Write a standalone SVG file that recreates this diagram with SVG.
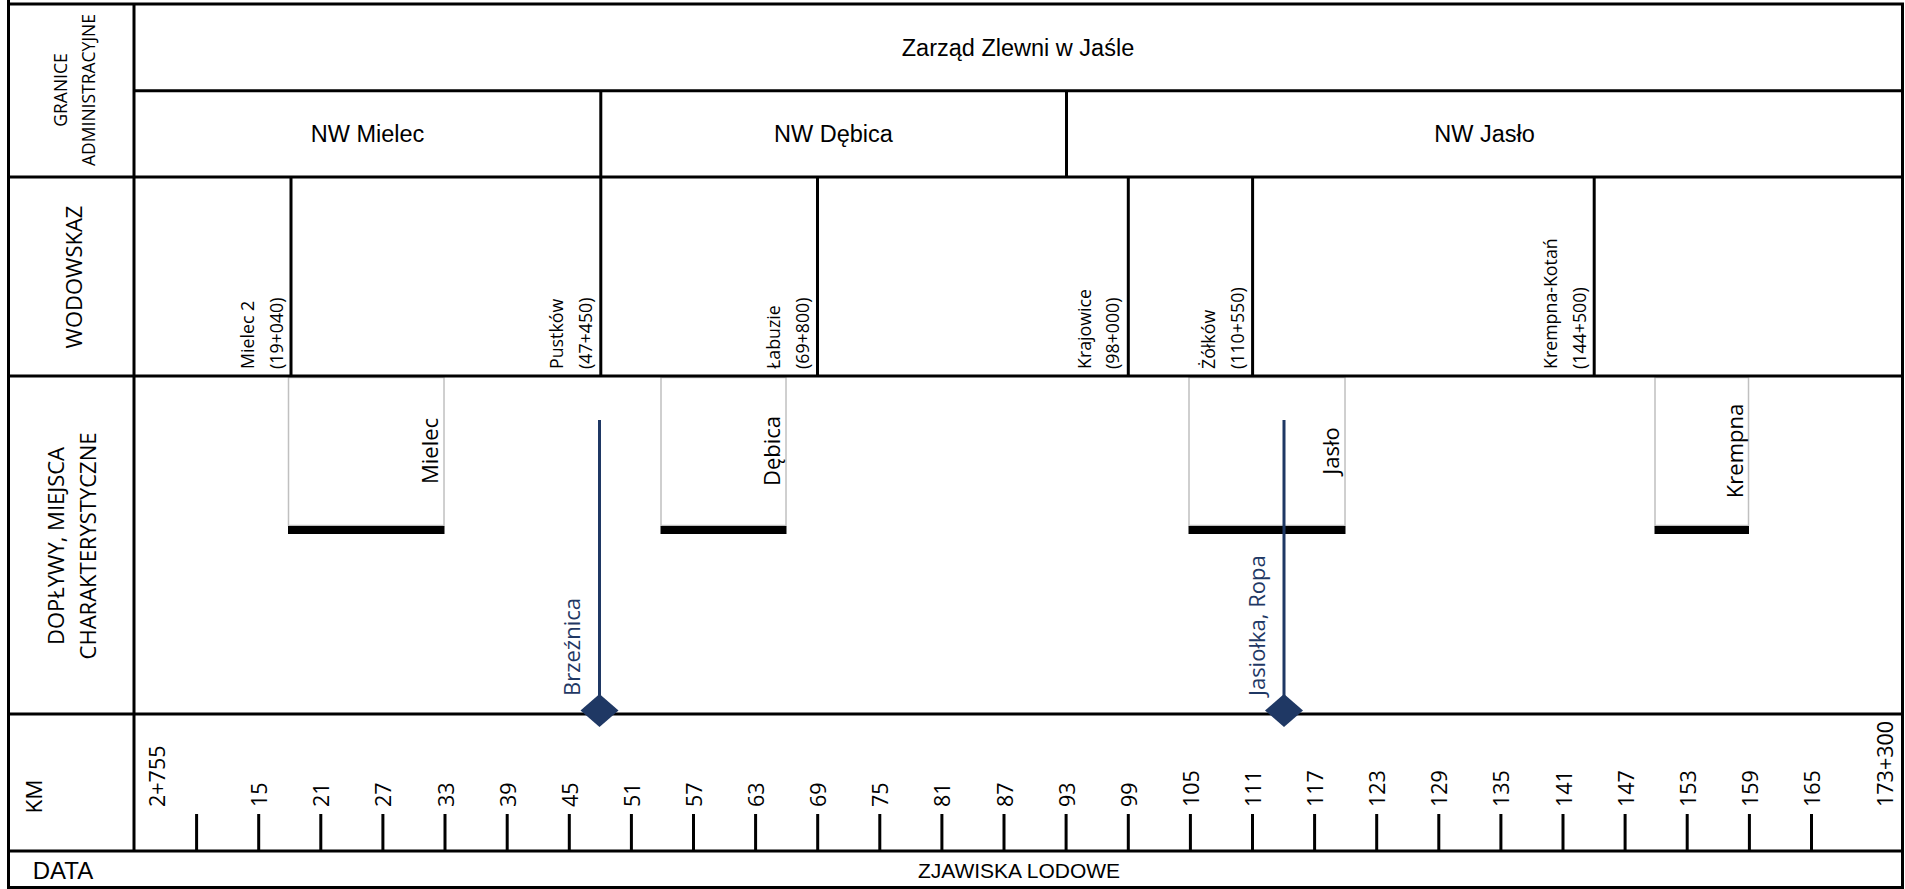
<svg xmlns="http://www.w3.org/2000/svg" width="1905" height="889" viewBox="0 0 1905 889">
  <style>
    .grid { fill: none; stroke: #000; stroke-width: 3; }
    .tick { fill: none; stroke: #000; stroke-width: 3; }
    .cal { font-family: "Liberation Sans", Arial, sans-serif; fill: #000; }
    .os { font-family: "Open Sans", "DejaVu Sans", sans-serif; fill: #000; }
    .hdr { font-size: 23.5px; text-anchor: middle; dominant-baseline: central; }
    .st { font-size: 17.8px; text-anchor: start; dominant-baseline: central; }
    .km { font-size: 21.5px; text-anchor: start; dominant-baseline: central; }
    .box { fill: #fff; stroke: #c0c0c0; stroke-width: 1.5; }
    .bar { fill: #000; }
    .blab { font-size: 22px; text-anchor: middle; dominant-baseline: central; }
    .trib { fill: none; stroke: #1f3864; stroke-width: 3; }
    .tlab { font-family: "Open Sans", "DejaVu Sans", sans-serif; font-size: 22px; fill: #1f3864; text-anchor: start; dominant-baseline: central; }
    .side { text-anchor: middle; dominant-baseline: central; }
  </style>
  <defs>
    <marker id="diamond" viewBox="-20 -18 40 36" markerWidth="40" markerHeight="36" refX="0" refY="0" markerUnits="userSpaceOnUse" orient="0">
      <polygon points="0,-16.5 19,0 0,16.5 -19,0" fill="#1f3864"/>
    </marker>
  </defs>
  <rect width="1905" height="889" fill="#fff"/>

  <!-- boxes (characteristic places) -->
  <g id="box-mielec">
    <rect class="box" x="288.5" y="377.5" width="155.5" height="148"/>
    <rect class="bar" x="288" y="526" width="156.5" height="8"/>
    <text class="os blab" transform="translate(429,451) rotate(-90)">Mielec</text>
  </g>
  <g id="box-debica">
    <rect class="box" x="661" y="377.5" width="125" height="148"/>
    <rect class="bar" x="660.5" y="526" width="126" height="8"/>
    <text class="os blab" transform="translate(771,451) rotate(-90)">Dębica</text>
  </g>
  <g id="box-jaslo">
    <rect class="box" x="1189" y="377.5" width="156" height="148"/>
    <rect class="bar" x="1188.5" y="526" width="157" height="8"/>
    <text class="os blab" transform="translate(1330,451) rotate(-90)">Jasło</text>
  </g>
  <g id="box-krempna">
    <rect class="box" x="1655" y="377.5" width="93.5" height="148"/>
    <rect class="bar" x="1654.5" y="526" width="94.5" height="8"/>
    <text class="os blab" transform="translate(1734,451) rotate(-90)">Krempna</text>
  </g>

  <!-- table grid -->
  <g id="grid">
    <rect class="grid" x="8.5" y="4" width="1894" height="883.5"/>
    <path class="grid" d="M8.5 0 V4
      M134 4 V851
      M134 90.7 H1902.5
      M8.5 177 H1902.5
      M8.5 376 H1902.5
      M8.5 714 H1902.5
      M8.5 851 H1902.5
      M600.8 90.7 V376
      M1066.5 90.7 V177
      M291 177 V376
      M817.5 177 V376
      M1128.3 177 V376
      M1252.6 177 V376
      M1594.2 177 V376"/>
  </g>

  <!-- row headers -->
  <g id="row-granice">
    <text class="os side" font-size="17.5" transform="translate(60,90) rotate(-90)">GRANICE</text>
    <text class="os side" font-size="17.5" transform="translate(87.5,90) rotate(-90)">ADMINISTRACYJNE</text>
  </g>
  <g id="row-wodowskaz">
    <text class="os side" font-size="22" transform="translate(73,277) rotate(-90)">WODOWSKAZ</text>
  </g>
  <g id="row-doplywy">
    <text class="os side" font-size="22" transform="translate(55,546) rotate(-90)">DOPŁYWY, MIEJSCA</text>
    <text class="os side" font-size="22" transform="translate(87,546) rotate(-90)">CHARAKTERYSTYCZNE</text>
  </g>
  <g id="row-km">
    <text class="os side" font-size="22.5" transform="translate(33,796.5) rotate(-90)">KM</text>
  </g>
  <g id="row-data">
    <text class="cal side" font-size="24" x="63" y="870">DATA</text>
    <text class="cal side" font-size="21" x="1019" y="870">ZJAWISKA LODOWE</text>
  </g>

  <!-- administrative units -->
  <g id="zarzad">
    <text class="cal hdr" font-size="24" x="1018" y="47.5">Zarząd Zlewni w Jaśle</text>
  </g>
  <g id="nw-mielec"><text class="cal hdr" x="367.5" y="134">NW Mielec</text></g>
  <g id="nw-debica"><text class="cal hdr" x="833.5" y="134">NW Dębica</text></g>
  <g id="nw-jaslo"><text class="cal hdr" x="1484.5" y="134">NW Jasło</text></g>

  <!-- gauges -->
  <g id="g-mielec2">
    <text class="os st" transform="translate(246.5,369) rotate(-90)">Mielec 2</text>
    <text class="os st" transform="translate(275.5,369) rotate(-90)">(19+040)</text>
  </g>
  <g id="g-pustkow">
    <text class="os st" transform="translate(556,369) rotate(-90)">Pustków</text>
    <text class="os st" transform="translate(585,369) rotate(-90)">(47+450)</text>
  </g>
  <g id="g-labuzie">
    <text class="os st" transform="translate(773,369) rotate(-90)">Łabuzie</text>
    <text class="os st" transform="translate(802,369) rotate(-90)">(69+800)</text>
  </g>
  <g id="g-krajowice">
    <text class="os st" transform="translate(1084,369) rotate(-90)">Krajowice</text>
    <text class="os st" transform="translate(1112,369) rotate(-90)">(98+000)</text>
  </g>
  <g id="g-zolkow">
    <text class="os st" transform="translate(1208,369) rotate(-90)">Żółków</text>
    <text class="os st" transform="translate(1237,369) rotate(-90)">(110+550)</text>
  </g>
  <g id="g-krempna-kotan">
    <text class="os st" transform="translate(1550,369) rotate(-90)">Krempna-Kotań</text>
    <text class="os st" transform="translate(1579,369) rotate(-90)">(144+500)</text>
  </g>

  <!-- km scale -->
  <g id="km-scale">
    <path class="tick" d="M196.6 814V851 M258.7 814V851 M320.8 814V851 M382.9 814V851 M445 814V851 M507.2 814V851 M569.3 814V851 M631.4 814V851 M693.5 814V851 M755.6 814V851 M817.7 814V851 M879.8 814V851 M941.9 814V851 M1004 814V851 M1066.1 814V851 M1128.3 814V851 M1190.4 814V851 M1252.5 814V851 M1314.6 814V851 M1376.7 814V851 M1438.8 814V851 M1500.9 814V851 M1563 814V851 M1625.1 814V851 M1687.2 814V851 M1749.4 814V851 M1811.5 814V851"/>
    <text class="os km" transform="translate(156,807) rotate(-90)">2+755</text>
    <text class="os km" transform="translate(258.7,807) rotate(-90)">15</text>
    <text class="os km" transform="translate(320.8,807) rotate(-90)">21</text>
    <text class="os km" transform="translate(382.9,807) rotate(-90)">27</text>
    <text class="os km" transform="translate(445,807) rotate(-90)">33</text>
    <text class="os km" transform="translate(507.2,807) rotate(-90)">39</text>
    <text class="os km" transform="translate(569.3,807) rotate(-90)">45</text>
    <text class="os km" transform="translate(631.4,807) rotate(-90)">51</text>
    <text class="os km" transform="translate(693.5,807) rotate(-90)">57</text>
    <text class="os km" transform="translate(755.6,807) rotate(-90)">63</text>
    <text class="os km" transform="translate(817.7,807) rotate(-90)">69</text>
    <text class="os km" transform="translate(879.8,807) rotate(-90)">75</text>
    <text class="os km" transform="translate(941.9,807) rotate(-90)">81</text>
    <text class="os km" transform="translate(1004,807) rotate(-90)">87</text>
    <text class="os km" transform="translate(1066.1,807) rotate(-90)">93</text>
    <text class="os km" transform="translate(1128.3,807) rotate(-90)">99</text>
    <text class="os km" transform="translate(1190.4,807) rotate(-90)">105</text>
    <text class="os km" transform="translate(1252.5,807) rotate(-90)">111</text>
    <text class="os km" transform="translate(1314.6,807) rotate(-90)">117</text>
    <text class="os km" transform="translate(1376.7,807) rotate(-90)">123</text>
    <text class="os km" transform="translate(1438.8,807) rotate(-90)">129</text>
    <text class="os km" transform="translate(1500.9,807) rotate(-90)">135</text>
    <text class="os km" transform="translate(1563,807) rotate(-90)">141</text>
    <text class="os km" transform="translate(1625.1,807) rotate(-90)">147</text>
    <text class="os km" transform="translate(1687.2,807) rotate(-90)">153</text>
    <text class="os km" transform="translate(1749.4,807) rotate(-90)">159</text>
    <text class="os km" transform="translate(1811.5,807) rotate(-90)">165</text>
    <text class="os km" transform="translate(1884,807) rotate(-90)">173+300</text>
  </g>

  <!-- tributaries (connectors) -->
  <g id="connectors">
    <path class="trib" d="M599.5 420 V710.5" marker-end="url(#diamond)"/>
    <path class="trib" d="M1284 420 V710.5" marker-end="url(#diamond)"/>
  </g>
  <g id="trib-brzeznica">
    <text class="tlab" transform="translate(571,696) rotate(-90)">Brzeźnica</text>
  </g>
  <g id="trib-jasiolka">
    <text class="tlab" transform="translate(1255.5,696) rotate(-90)">Jasiołka, Ropa</text>
  </g>
</svg>
